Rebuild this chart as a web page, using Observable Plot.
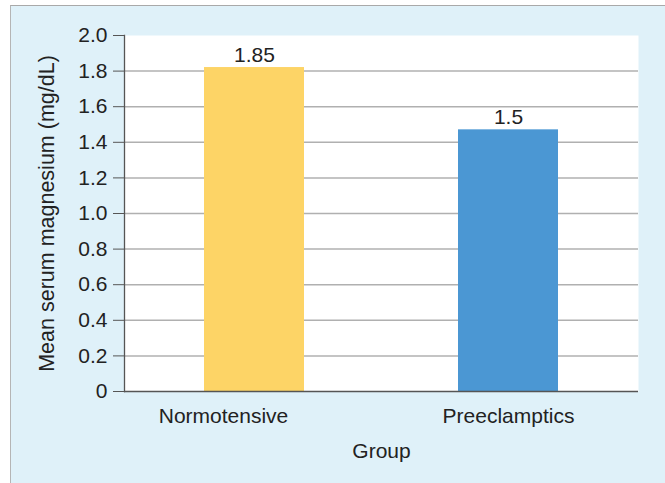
<!DOCTYPE html>
<html>
<head>
<meta charset="utf-8">
<script src="https://cdn.jsdelivr.net/npm/d3@7"></script>
<script src="https://cdn.jsdelivr.net/npm/@observablehq/plot@0.6"></script>
<style>
  html, body { margin: 0; padding: 0; background: #ffffff; }
  #panel {
    position: absolute; left: 10px; top: 5px;
    width: 655px; height: 478px;
    background: #dff1f9;
    border-top: 1px solid #a9a9a9;
    border-left: 1px solid #b5b5b5;
  }
  #panel svg { display: block; overflow: visible; }
</style>
</head>
<body>
<div id="panel"></div>
<script>
const groups = ["Normotensive", "Preeclamptics"];
const means = [1.82, 1.47];
const valueLabels = ["1.85", "1.5"];
const barColors = ["#fdd466", "#4b97d3"];
const yTicks = [0, 0.2, 0.4, 0.6, 0.8, 1.0, 1.2, 1.4, 1.6, 1.8, 2.0];
const yTitle = "Mean serum magnesium (mg/dL)";
const xTitle = "Group";

const data = groups.map((g, i) => ({group: g, mean: means[i], label: valueLabels[i], color: barColors[i]}));

const chart = Plot.plot({
  width: 654,
  height: 477,
  marginLeft: 113,
  marginRight: 27,
  marginTop: 29,
  marginBottom: 92,
  style: {background: "transparent", fontFamily: "'Liberation Sans', Arial, sans-serif", color: "#222"},
  x: {domain: groups, paddingInner: 0.606, paddingOuter: 0.311, axis: null},
  y: {domain: [0, 2.0], axis: null},
  marks: [
    Plot.frame({fill: "white", stroke: "none"}),
    Plot.gridY(yTicks.filter(t => t > 0 && t < 2), {stroke: "#b0b0b0", strokeOpacity: 1, strokeWidth: 1.5}),
    Plot.barY(data, {x: "group", y: "mean", fill: "color"}),
    Plot.frame({anchor: "left", stroke: "#555", strokeWidth: 1.3}),
    Plot.ruleY([0], {stroke: "#555", strokeWidth: 1.5}),
    Plot.axisY({ticks: yTicks, tickSize: 11, tickPadding: 6, fontSize: 21, stroke: "#555",
      tickFormat: d => d === 0 ? "0" : d.toFixed(1), label: null}),
    Plot.axisX({ticks: [groups[0]], tickSize: 0, tickPadding: 17, dx: -31, fontSize: 21, label: null}),
    Plot.axisX({ticks: [groups[1]], tickSize: 0, tickPadding: 17, fontSize: 21, label: null}),
    Plot.text(data, {x: "group", y: "mean", text: "label", lineAnchor: "bottom", dy: -6, fontSize: 21, fill: "#222"}),
    Plot.text([xTitle], {frameAnchor: "bottom", dy: 66, fontSize: 21, fill: "#222"}),
    Plot.text([yTitle], {frameAnchor: "left", textAnchor: "middle", rotate: -90, dx: -77, fontSize: 21.5, fill: "#222"})
  ]
});
document.getElementById("panel").appendChild(chart);
</script>
</body>
</html>
